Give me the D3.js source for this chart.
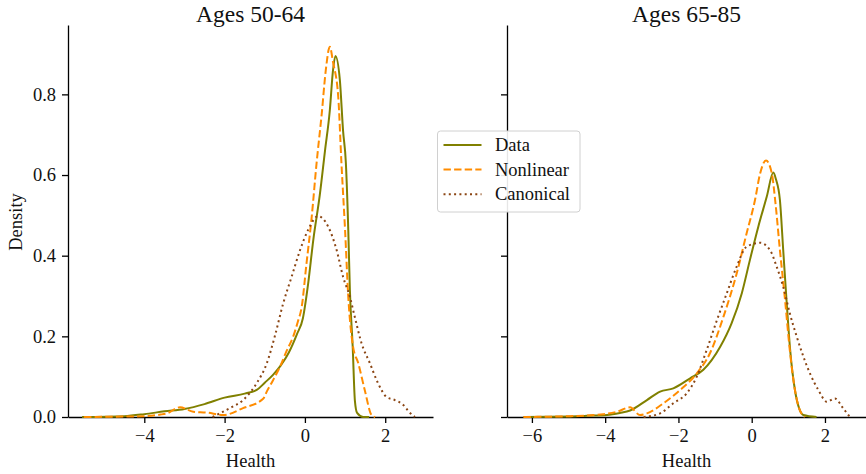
<!DOCTYPE html>
<html>
<head>
<meta charset="utf-8">
<script src="https://cdn.jsdelivr.net/npm/d3@7"></script>
<style>
  body { margin: 0; background: #fff; }
  svg text { font-family: "Liberation Serif", "DejaVu Serif", serif; fill: #111; }
</style>
</head>
<body>
<div id="chart"></div>
<script>
"use strict";

// panel titles and legend labels
const PANELS = ["Ages 50-64", "Ages 65-85"];
const SERIES = ["Data", "Nonlinear", "Canonical"];
const Y_TICKS = [0, 0.2, 0.4, 0.6, 0.8];
const X_TICKS_YOUNG = [-4, -2, 0, 2];
const X_TICKS_OLD = [-6, -4, -2, 0, 2];

// [health, density]
const youngData = [[-5.55, 0], [-4.5, 0.002], [-4, 0.007], [-3.5, 0.014], [-3, 0.02], [-2.5, 0.032],
    [-2, 0.048], [-1.5, 0.058], [-1.2, 0.067], [-1.0, 0.085], [-0.8, 0.104], [-0.6, 0.128],
    [-0.4, 0.16], [-0.2, 0.205], [-0.05, 0.245], [0.08, 0.33], [0.21, 0.44], [0.37, 0.55],
    [0.5, 0.66], [0.62, 0.76], [0.7, 0.86], [0.76, 0.895], [0.87, 0.836], [0.95, 0.71],
    [1.02, 0.63], [1.08, 0.464], [1.12, 0.315], [1.19, 0.174], [1.245, 0.04], [1.3, 0.01],
    [1.45, 0], [1.6, 0]];
const youngNonlinear = [[-5.5, 0], [-4.5, 0.001], [-4.0, 0.002], [-3.6, 0.006], [-3.44, 0.009],
    [-3.11, 0.024], [-2.78, 0.013], [-2.45, 0.011], [-2.03, 0.005], [-1.54, 0.022], [-1.04, 0.045],
    [-0.95, 0.063], [-0.8, 0.09], [-0.62, 0.125], [-0.45, 0.165], [-0.29, 0.2], [-0.18, 0.235],
    [-0.08, 0.273], [0.04, 0.381], [0.17, 0.497], [0.29, 0.629], [0.42, 0.753], [0.52, 0.86],
    [0.62, 0.918], [0.7, 0.88], [0.83, 0.794], [0.91, 0.629], [1.0, 0.464], [1.08, 0.298],
    [1.2, 0.174], [1.33, 0.133], [1.49, 0.067], [1.66, 0.005], [1.75, 0]];
const youngCanonical = [[-2.3, 0], [-2.1, 0.01], [-1.87, 0.022], [-1.54, 0.042], [-1.2, 0.084],
    [-0.95, 0.133], [-0.75, 0.2], [-0.54, 0.282], [-0.33, 0.348], [-0.12, 0.414], [0.08, 0.464],
    [0.33, 0.498], [0.58, 0.472], [0.79, 0.414], [0.95, 0.348], [1.12, 0.298], [1.24, 0.249],
    [1.41, 0.183], [1.62, 0.133], [1.82, 0.084], [2.03, 0.05], [2.24, 0.042], [2.45, 0.03],
    [2.6, 0.012], [2.74, 0]];

const oldData = [[-6.23, 0], [-5, 0.001], [-4.5, 0.003], [-3.95, 0.005], [-3.6, 0.01], [-3.32, 0.016],
    [-2.86, 0.042], [-2.5, 0.063], [-2.14, 0.071], [-1.68, 0.096], [-1.32, 0.117], [-0.86, 0.174],
    [-0.55, 0.232], [-0.27, 0.307], [-0.05, 0.389], [0.18, 0.472], [0.41, 0.546], [0.59, 0.606],
    [0.66, 0.59], [0.77, 0.538], [0.86, 0.414], [0.95, 0.29], [1.05, 0.166], [1.18, 0.067],
    [1.3, 0.02], [1.41, 0.005], [1.77, 0]];
const oldNonlinear = [[-6.23, 0], [-4.95, 0.002], [-4.05, 0.007], [-3.68, 0.013], [-3.32, 0.024],
    [-3.05, 0.005], [-2.86, 0.009], [-2.41, 0.034], [-1.95, 0.067], [-1.5, 0.108], [-1.14, 0.158],
    [-0.77, 0.249], [-0.41, 0.356], [-0.14, 0.455], [0.09, 0.538], [0.23, 0.604], [0.39, 0.636],
    [0.55, 0.604], [0.64, 0.538], [0.77, 0.414], [0.91, 0.29], [1.04, 0.166], [1.18, 0.067],
    [1.3, 0.02], [1.45, 0]];
const oldCanonical = [[-2.95, 0], [-2.5, 0.009], [-2.14, 0.034], [-1.77, 0.059], [-1.5, 0.1],
    [-1.23, 0.166], [-0.95, 0.24], [-0.68, 0.307], [-0.41, 0.373], [-0.14, 0.422], [0.23, 0.432],
    [0.5, 0.414], [0.68, 0.373], [0.86, 0.323], [1.04, 0.257], [1.23, 0.199], [1.41, 0.15],
    [1.59, 0.108], [1.82, 0.067], [2.05, 0.038], [2.27, 0.046], [2.5, 0.021], [2.68, 0]];

const WIDTH = 866;
const HEIGHT = 474;
const TOP = 25;
const BOTTOM = 417;
const Y_MAX = 0.972;
const TICK_LEN = 6;
const FONT_SIZE = 18.5;

const COLORS = ["#808000", "#ff8c00", "#8b4513"];
const DASHES = [null, "7.4,3.2", "2,3.3"];
const LINE_WIDTH = 2;

const panelDefs = [
    {title: PANELS[0], left: 68, right: 433, domain: [-5.9, 3.19], ticks: X_TICKS_YOUNG,
        series: [youngData, youngNonlinear, youngCanonical], yLabels: true},
    {title: PANELS[1], left: 507, right: 866, domain: [-6.68, 3.12], ticks: X_TICKS_OLD,
        series: [oldData, oldNonlinear, oldCanonical], yLabels: false}
];

const svg = d3.select("#chart").append("svg")
    .attr("width", WIDTH)
    .attr("height", HEIGHT);

const y = d3.scaleLinear().domain([0, Y_MAX]).range([BOTTOM, TOP]);

function styleAxis(g) {
    g.select(".domain").attr("stroke", "#000").attr("stroke-width", 1.3);
    g.selectAll(".tick line").attr("stroke", "#000").attr("stroke-width", 1.3);
    g.selectAll(".tick text").attr("font-size", FONT_SIZE).attr("fill", "#111");
}

panelDefs.forEach(function (p) {
    const x = d3.scaleLinear().domain(p.domain).range([p.left, p.right]);

    const xAxis = svg.append("g")
        .attr("transform", "translate(0," + BOTTOM + ")")
        .call(d3.axisBottom(x).tickValues(p.ticks).tickSize(TICK_LEN).tickPadding(6).tickSizeOuter(0))
        .call(styleAxis);
    xAxis.selectAll("text").attr("font-family", "Liberation Serif, serif");

    const yAxis = svg.append("g")
        .attr("transform", "translate(" + p.left + ",0)")
        .call(d3.axisLeft(y).tickValues(Y_TICKS).tickSize(TICK_LEN).tickPadding(6)
            .tickSizeOuter(0).tickFormat(p.yLabels ? d3.format(".1f") : ""))
        .call(styleAxis);
    yAxis.selectAll("text").attr("font-family", "Liberation Serif, serif");

    const line = d3.line()
        .x(function (d) { return x(d[0]); })
        .y(function (d) { return y(d[1]); })
        .curve(d3.curveMonotoneX);

    p.series.forEach(function (s, i) {
        svg.append("path")
            .datum(s)
            .attr("d", line)
            .attr("fill", "none")
            .attr("stroke", COLORS[i])
            .attr("stroke-width", LINE_WIDTH)
            .attr("stroke-dasharray", DASHES[i])
            .attr("stroke-linejoin", "round");
    });

    svg.append("text")
        .attr("x", (p.left + p.right) / 2)
        .attr("y", 21.5)
        .attr("text-anchor", "middle")
        .attr("font-size", 23.5)
        .text(p.title);

    svg.append("text")
        .attr("x", (p.left + p.right) / 2)
        .attr("y", 467)
        .attr("text-anchor", "middle")
        .attr("font-size", FONT_SIZE)
        .text("Health");
});

svg.append("text")
    .attr("transform", "translate(22,222) rotate(-90)")
    .attr("text-anchor", "middle")
    .attr("font-size", FONT_SIZE)
    .text("Density");

// legend
const legend = svg.append("g").attr("transform", "translate(437.5,131)");
legend.append("rect")
    .attr("width", 142.5)
    .attr("height", 81)
    .attr("rx", 3)
    .attr("fill", "#fff")
    .attr("fill-opacity", 0.9)
    .attr("stroke", "#d0d0d0")
    .attr("stroke-width", 1);

SERIES.forEach(function (name, i) {
    const row = legend.append("g").attr("transform", "translate(0," + (14 + i * 24.6) + ")");
    row.append("line")
        .attr("x1", 6)
        .attr("x2", 44)
        .attr("stroke", COLORS[i])
        .attr("stroke-width", LINE_WIDTH)
        .attr("stroke-dasharray", DASHES[i]);
    row.append("text")
        .attr("x", 57.5)
        .attr("y", 6)
        .attr("font-size", FONT_SIZE)
        .text(name);
});
</script>
</body>
</html>
